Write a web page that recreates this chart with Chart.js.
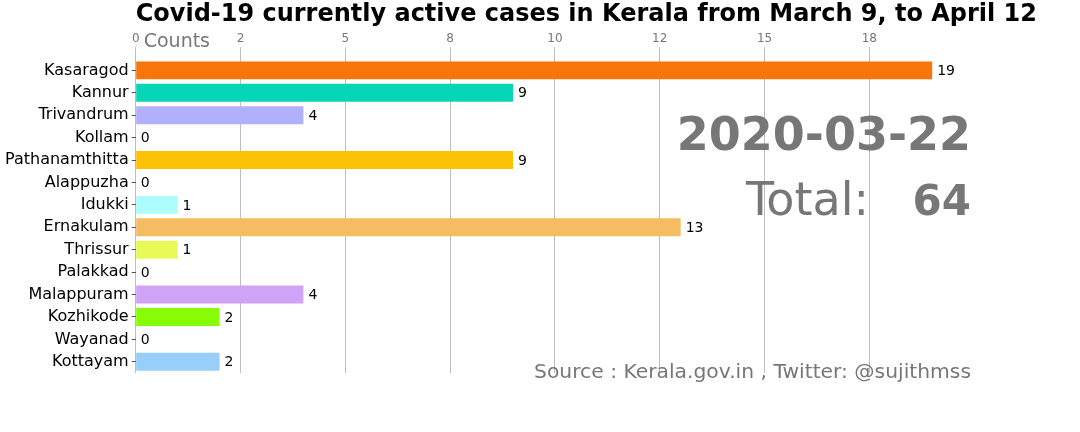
<!DOCTYPE html>
<html>
<head>
<meta charset="utf-8">
<script src="https://cdn.jsdelivr.net/npm/chart.js@4.4.0/dist/chart.umd.min.js"></script>
<style>
  html, body { margin: 0; padding: 0; background: #fff; }
  #wrap { width: 1080px; height: 432px; position: relative; }
</style>
</head>
<body>
<div id="wrap"><canvas id="bar-chart"></canvas></div>
<script>
// data (2020-03-22)
const districts = ["Kasaragod", "Kannur", "Trivandrum", "Kollam", "Pathanamthitta", "Alappuzha", "Idukki",
  "Ernakulam", "Thrissur", "Palakkad", "Malappuram", "Kozhikode", "Wayanad", "Kottayam"];
const activeCases = [19, 9, 4, 0, 9, 0, 1, 13, 1, 0, 4, 2, 0, 2];
const barColors = ["#f7750a", "#06d6b5", "#b0b0fc", "#cccccc", "#fbc105", "#cccccc", "#adfcfc",
  "#f6bc62", "#e8fa55", "#cccccc", "#d0a2f8", "#88fc07", "#cccccc", "#97cefa"];
const tickValues = [0, 2.5, 5, 7.5, 10, 12.5, 15, 17.5];
const tickLabels = ["0", "2", "5", "8", "10", "12", "15", "18"];
const dateLabel = "2020-03-22";
const totalCases = 64;

const GREY = "#777777";
const FONT = "'DejaVu Sans', sans-serif";

// draws the bar value labels and the text overlays
const overlayPlugin = {
  id: "overlay",
  afterDatasetsDraw(chart) {
    const ctx = chart.ctx;
    const meta = chart.getDatasetMeta(0);
    ctx.save();
    ctx.fillStyle = "#000";
    ctx.font = "14px " + FONT;
    ctx.textAlign = "left";
    ctx.textBaseline = "middle";
    meta.data.forEach((bar, i) => {
      ctx.fillText(String(activeCases[i]), bar.x + 5, bar.y + 1);
    });

    const area = chart.chartArea;
    ctx.fillStyle = GREY;
    ctx.textBaseline = "alphabetic";
    ctx.font = "19px " + FONT;
    ctx.fillText("Counts", area.left + 8, area.top - 12);

    ctx.textAlign = "right";
    ctx.font = "bold 46px " + FONT;
    ctx.fillText(dateLabel, 971, 150);

    ctx.font = "bold 42px " + FONT;
    ctx.fillText(String(totalCases), 971, 215);
    ctx.font = "46px " + FONT;
    ctx.fillText("Total:", 869, 215);

    ctx.font = "20.3px " + FONT;
    ctx.fillText("Source : Kerala.gov.in , Twitter: @sujithmss", 971, 378);
    ctx.restore();
  }
};

new Chart(document.getElementById("bar-chart"), {
  type: "bar",
  data: {
    labels: districts,
    datasets: [{
      data: activeCases,
      backgroundColor: barColors,
      borderWidth: 0,
      barPercentage: 0.8,
      categoryPercentage: 1.0
    }]
  },
  options: {
    indexAxis: "y",
    responsive: true,
    maintainAspectRatio: false,
    animation: false,
    layout: { padding: { left: 2, right: 43, top: 0, bottom: 59 } },
    plugins: {
      legend: { display: false },
      tooltip: { enabled: false },
      title: {
        display: true,
        fullSize: false,
        text: "Covid-19 currently active cases in Kerala from March 9, to April 12",
        color: "#000",
        font: { family: FONT, size: 24, weight: "bold" },
        padding: { top: 0, bottom: 2 }
      }
    },
    scales: {
      x: {
        position: "top",
        min: 0,
        max: 21.5,
        afterBuildTicks(scale) {
          scale.ticks = tickValues.map(v => ({ value: v }));
        },
        ticks: {
          color: GREY,
          font: { family: FONT, size: 12 },
          padding: 1,
          maxRotation: 0,
          callback: (v, i) => tickLabels[i]
        },
        grid: { color: "#bdbdbd", lineWidth: 1, tickLength: 12, drawTicks: true },
        border: { display: false }
      },
      y: {
        ticks: {
          color: "#000",
          font: { family: FONT, size: 16 },
          padding: 3
        },
        grid: { drawOnChartArea: false, drawTicks: true, tickLength: 4, color: "#555", offset: false },
        border: { display: false }
      }
    }
  },
  plugins: [overlayPlugin]
});
</script>
</body>
</html>
